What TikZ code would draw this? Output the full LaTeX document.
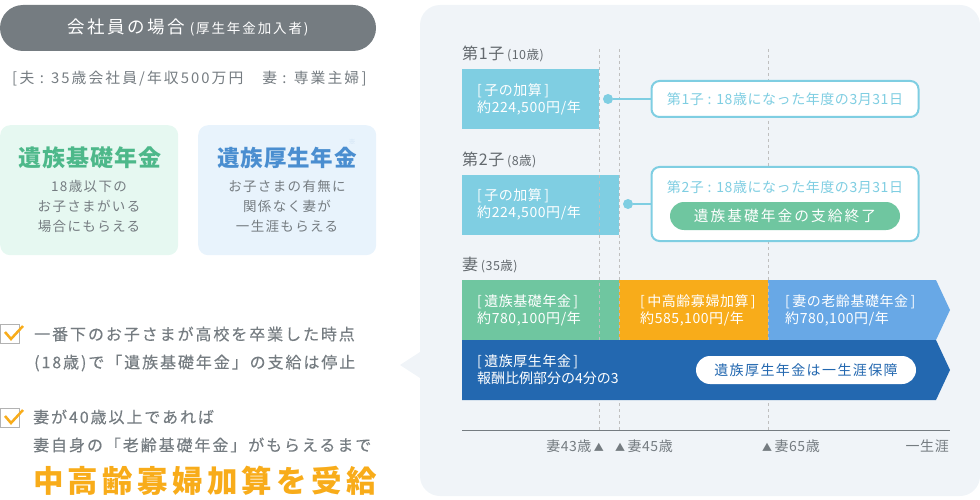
\documentclass[tikz,border=0pt]{standalone}
\usepackage{fontspec}
\setmainfont{Noto Sans CJK JP}
\newfontfamily\jpa{Noto Sans CJK JP}[LetterSpace=4]
\newfontfamily\jpb{Noto Sans CJK JP}[LetterSpace=10]
\newfontfamily\jpc{Noto Sans CJK JP}[LetterSpace=14]
\newfontfamily\jpm{Noto Sans CJK JP}[LetterSpace=12,FakeBold=0.25]
\definecolor{grayt}{HTML}{757C81}
\definecolor{panelc}{HTML}{F0F4F8}
\definecolor{cyanc}{HTML}{7FCEE2}
\definecolor{greenc}{HTML}{6FC6A0}
\definecolor{orangec}{HTML}{F8AC1A}
\definecolor{skyc}{HTML}{68A8E6}
\definecolor{navyc}{HTML}{2368B0}
\definecolor{kisoc}{HTML}{E6F8F1}
\definecolor{koseic}{HTML}{E8F3FC}
\definecolor{kisot}{HTML}{4DB88A}
\definecolor{koseit}{HTML}{4A8ED0}
\tikzset{
  lab/.style={inner sep=0pt,font=\jpa\fontsize{14}{17}\selectfont,text=white,align=left,anchor=west},
  grayl/.style={inner sep=0pt,font=\jpm\fontsize{16}{28}\selectfont,text=grayt,align=left,anchor=west},
  bar/.style={anchor=north west,inner sep=0pt,minimum height=60pt},
  pill/.style={rounded corners=14pt,inner sep=0pt,minimum height=28pt},
  callout/.style={draw=cyanc,line width=2pt,fill=white,rounded corners=8pt,inner sep=0pt,minimum width=267pt},
  dot/.style={circle,fill=cyanc,inner sep=0pt,minimum size=10pt},
  tick/.style={inner sep=0pt,font=\jpa\fontsize{14}{17}\selectfont,text=grayt},
  who/.style={inner sep=0pt,font=\jpa\fontsize{16}{18}\selectfont,text=grayt!85!black,anchor=west},
  chk/.style={draw=gray!60,fill=white,line width=.8pt,minimum size=19pt,inner sep=0pt},
  card/.style={rounded corners=10pt,minimum width=178pt,minimum height=130pt,anchor=north west,inner sep=0pt},
  cardb/.style={inner sep=0pt,text=grayt,align=center,font=\jpb\fontsize{13.5}{20}\selectfont},
}
\newcommand{\smallw}{\fontsize{12.5}{12}\selectfont}
\begin{document}
\begin{tikzpicture}[x=1pt,y=-1pt]
\useasboundingbox(0,0)rectangle(980,500);
% left side
\node[fill=grayt,rounded corners=23pt,minimum width=376pt,minimum height=46pt,inner sep=0pt](header)at(188,28){};
\node[inner sep=0pt,text=white](headert)at(188,27){\jpc\fontsize{17.5}{17}\selectfont 会社員の場合\hspace{5pt}{\fontsize{13.5}{13}\selectfont (厚生年金加入者)}};
\node[inner sep=0pt,text=grayt,anchor=west](family)at(12,79){\jpc\fontsize{14.8}{14}\selectfont [\,夫 : 35歳会社員/年収500万円　妻 : 専業主婦\,]};
\node[card,fill=kisoc](kiso)at(0,125){};
\node[card,fill=koseic](kosei)at(198,125){};
\node[inner sep=0pt,text=kisot](kisott)at(90,158){\jpa\fontsize{23}{23}\bfseries\selectfont 遺族基礎年金};
\node[inner sep=0pt,text=koseit](koseitt)at(287,158){\jpa\fontsize{22.5}{23}\bfseries\selectfont 遺族厚生年金};
\node[inner sep=0pt,text=koseit!30,font=\fontsize{7}{7}\selectfont](mark)at(352,142){※};
\node[cardb](kisob)at(89,206){18歳以下の\\お子さまがいる\\場合にもらえる};
\node[cardb](koseib)at(287,206){お子さまの有無に\\関係なく妻が\\一生涯もらえる};
\node[chk](chka)at(10,334){};
\node[chk](chkb)at(10,418){};
\draw[orangec,line width=2.5pt](5,332)--(11,339)--(23,326);
\draw[orangec,line width=2.5pt](5,416)--(11,423)--(23,410);
\node[grayl](nota)at(34,349){一番下のお子さまが高校を卒業した時点\\(18歳)で「遺族基礎年金」の支給は停止};
\node[grayl](notb)at(33,431){妻が40歳以上であれば\\妻自身の「老齢基礎年金」がもらえるまで};
\node[inner sep=0pt,text=orangec,anchor=west](notc)at(33,481){\jpc\fontsize{30.5}{30}\bfseries\selectfont 中高齢寡婦加算を受給};
% right panel
\fill[panelc,rounded corners=20pt](420,5)--(980,5)--(980,496)--(420,496)--cycle;
\fill[panelc](400,365)--(420,352)--(420,378)--cycle;
% bars
\node[who](whoa)at(462,54){第1子\,{\smallw (10歳)}};
\node[who](whob)at(462,160){第2子\,{\smallw (8歳)}};
\node[who](whoc)at(462,265){妻\,{\smallw (35歳)}};
\node[bar,fill=cyanc,minimum width=137pt](childa)at(462,69){};
\node[bar,fill=cyanc,minimum width=157pt](childb)at(462,175){};
\node[bar,fill=greenc,minimum width=157pt](wifea)at(462,280){};
\node[bar,fill=orangec,minimum width=149pt](wifeb)at(619,280){};
\fill[skyc](768,280)--(936,280)--(950,310)--(936,340)--(768,340)--cycle;
\draw[dashed,gray!50,line width=.6pt](599,49)--(599,430);
\draw[dashed,gray!50,line width=.6pt](619,49)--(619,430);
\draw[dashed,gray!50,line width=.6pt](768,49)--(768,430);
\fill[navyc](462,340)--(936,340)--(950,370)--(936,400)--(462,400)--cycle;
\node[lab](childat)at(477,99){[\,子の加算\,]\\約224,500円/年};
\node[lab](childbt)at(477,204){[\,子の加算\,]\\約224,500円/年};
\node[lab](wifeat)at(477,310){[\,遺族基礎年金\,]\\約780,100円/年};
\node[lab](wifebt)at(640,310){[\,中高齢寡婦加算\,]\\約585,100円/年};
\node[lab](wifect)at(785,310){[\,妻の老齢基礎年金\,]\\約780,100円/年};
\node[lab](navyt)at(477,370){[\,遺族厚生年金\,]\\{\normalfont 報酬比例部分の4分の3}};
\node[pill,fill=white,minimum width=220pt,text=navyc,font=\jpb\fontsize{14}{14}\selectfont](life)at(806,370){遺族厚生年金は一生涯保障};
% callouts
\node[dot](dota)at(608,99){};
\node[dot](dotb)at(628,204){};
\node[callout,minimum height=36pt,text=cyanc,font=\jpa\fontsize{14}{14}\selectfont](calla)at(785,99){第1子 : 18歳になった年度の3月31日};
\node[callout,minimum height=74pt](callb)at(785,204){};
\node[inner sep=0pt,text=cyanc,font=\jpa\fontsize{14}{14}\selectfont](callbt)at(785,187){第2子 : 18歳になった年度の3月31日};
\node[pill,fill=greenc,minimum width=230pt,text=white,font=\jpc\fontsize{14.7}{15}\selectfont](stop)at(785,216){遺族基礎年金の支給終了};
\draw[cyanc,line width=2pt](dota)--(calla);
\draw[cyanc,line width=2pt](dotb)--(callb);
% axis
\coordinate(axisl)at(462,430);
\coordinate(axisr)at(950,430);
\draw[grayt,line width=1pt](axisl)--(axisr);
\node[tick,anchor=east](agea)at(604,446){妻43歳\,{\fontsize{10}{10}\selectfont ▲}};
\node[tick,anchor=west](ageb)at(615,446){{\fontsize{10}{10}\selectfont ▲}\,妻45歳};
\node[tick,anchor=west](agec)at(762,446){{\fontsize{10}{10}\selectfont ▲}\,妻65歳};
\node[tick,anchor=east](aged)at(949,446){一生涯};
\end{tikzpicture}
\end{document}
